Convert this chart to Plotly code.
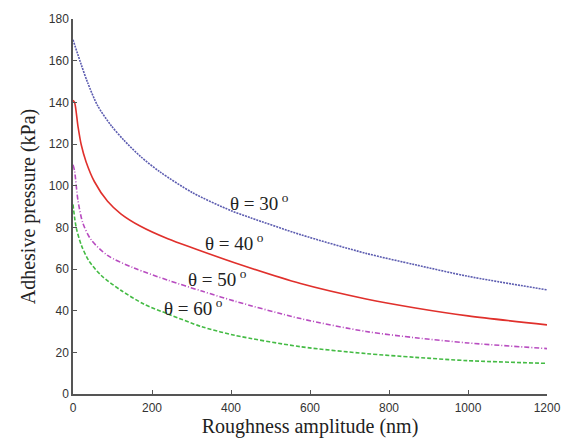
import plotly.graph_objects as go

# Data
x_t30 = [0, 21, 37, 62, 96, 129, 171, 221, 304, 400, 451, 576, 742, 867, 1000, 1200]
y_t30 = [170, 158, 149.5, 138.5, 129, 121.8, 114, 106.5, 96.5, 88, 84.5, 76.5, 67.5, 62, 56.5, 50]

x_t40 = [0, 4, 12.5, 21, 33, 54, 87.5, 121, 171, 240, 312, 409, 576, 742, 867, 1000, 1200]
y_t40 = [141, 140, 128.6, 119.5, 111.5, 102, 92.5, 86.5, 80.5, 74.5, 69.5, 63, 53, 45.6, 41.3, 37.5, 33.2]

x_t50 = [0, 4, 12.5, 25, 46, 87.5, 154, 242, 326, 409, 576, 742, 867, 1000, 1200]
y_t50 = [110, 107, 93, 82, 74, 66.5, 60.5, 54.5, 49.4, 44.6, 36.2, 30, 27, 24.5, 21.8]

x_t60 = [0, 8, 21, 40, 71, 121, 179, 242, 326, 409, 576, 742, 867, 1000, 1200]
y_t60 = [91, 80, 71.5, 64, 57, 49.8, 43.2, 38.3, 32.3, 28.2, 22.7, 19.4, 17.6, 16, 14.7]

x_ticks = [0, 200, 400, 600, 800, 1000, 1200]
y_ticks = [0, 20, 40, 60, 80, 100, 120, 140, 160, 180]

labels = ["θ = 30<sup> o</sup>", "θ = 40<sup> o</sup>", "θ = 50<sup> o</sup>", "θ = 60<sup> o</sup>"]
label_x = [392, 330, 285, 225]
label_y = [92, 73, 55.5, 42]

fig = go.Figure()
fig.add_trace(go.Scatter(x=x_t30, y=y_t30, mode="lines", line=dict(color="#5c5cb0", width=1.6, dash="2px,1px", shape="spline", smoothing=0.8)))
fig.add_trace(go.Scatter(x=x_t40, y=y_t40, mode="lines", line=dict(color="#e0302c", width=1.6, shape="spline", smoothing=0.8)))
fig.add_trace(go.Scatter(x=x_t50, y=y_t50, mode="lines", line=dict(color="#b84cc0", width=1.6, dash="5px,2px,1px,2px", shape="spline", smoothing=0.8)))
fig.add_trace(go.Scatter(x=x_t60, y=y_t60, mode="lines", line=dict(color="#44bb44", width=1.6, dash="4px,2px", shape="spline", smoothing=0.8)))

for t, lx, ly in zip(labels, label_x, label_y):
    fig.add_annotation(x=lx, y=ly, text=t, showarrow=False, xanchor="left", yanchor="middle",
                       font=dict(family="Liberation Serif, Times New Roman, serif", size=19, color="#222"))

fig.add_annotation(x=0.5, y=-0.215, xref="paper", yref="paper", text="(b)", showarrow=False,
                   yanchor="top", font=dict(family="Liberation Serif, serif", size=19, color="#222"))

axis_common = dict(showline=True, linecolor="#555", linewidth=1.5, ticks="inside", ticklen=4,
                   tickcolor="#555", showgrid=False, zeroline=False,
                   tickfont=dict(family="Liberation Sans, Arial, sans-serif", size=12, color="#333"))

fig.update_layout(
    width=573, height=445,
    margin=dict(l=73, r=19, t=15, b=51),
    paper_bgcolor="white", plot_bgcolor="white",
    showlegend=False,
    xaxis=dict(range=[0, 1200], tickvals=x_ticks, ticklabelstandoff=2,
               title=dict(text="Roughness amplitude (nm)", standoff=3,
                          font=dict(family="Liberation Serif, Times New Roman, serif", size=20, color="#222")),
               **axis_common),
    yaxis=dict(range=[0, 180], tickvals=y_ticks,
               title=dict(text="Adhesive pressure (kPa)", standoff=8,
                          font=dict(family="Liberation Serif, Times New Roman, serif", size=20, color="#222")),
               **axis_common),
)

fig.write_html("out.html")
